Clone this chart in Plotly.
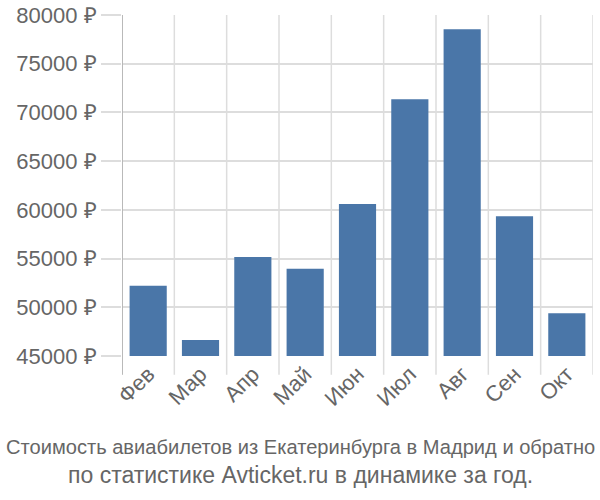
import plotly.graph_objects as go

months = ["Фев", "Мар", "Апр", "Май", "Июн", "Июл", "Авг", "Сен", "Окт"]
prices = [52200, 46650, 55150, 53950, 60600, 71350, 78550, 59350, 49400]
y_ticks = [45000, 50000, 55000, 60000, 65000, 70000, 75000, 80000]
y_tick_labels = [f"{v} ₽" for v in y_ticks]
title_line1 = "Стоимость авиабилетов из Екатеринбурга в Мадрид и обратно"
title_line2 = "по статистике Avticket.ru в динамике за год."

fig = go.Figure()
fig.add_trace(go.Bar(x=list(range(len(months))), y=prices, marker=dict(color="#4a76a8", line=dict(width=0)),
                     width=0.71))

fig.update_layout(
    width=600, height=500,
    margin=dict(l=122, r=7, t=15, b=144, autoexpand=False),
    plot_bgcolor="white", paper_bgcolor="white",
    showlegend=False,
    font=dict(family="Liberation Sans, Arial, sans-serif", color="#666666"),
)
fig.update_xaxes(
    tickmode="array", tickvals=list(range(len(months))), ticktext=months,
    range=[-0.5, len(months) - 0.5], automargin=False,
    tickangle=-45, tickfont=dict(size=22, color="#666666"),
    showgrid=False, ticks="", zeroline=False,
)
for i in range(len(months) + 1):
    fig.add_shape(type="line", xref="x", yref="paper", x0=i - 0.5, x1=i - 0.5, y0=-0.055, y1=1,
                  line=dict(color="#dddddd", width=1.5), layer="below")
fig.add_shape(type="line", xref="x", yref="paper", x0=-0.5, x1=-0.5, y0=-0.055, y1=1,
              line=dict(color="#aaaaaa", width=1.5), layer="above")
fig.update_yaxes(
    range=[45000, 80000], tickmode="array", tickvals=y_ticks, ticktext=y_tick_labels,
    tickfont=dict(size=22, color="#666666"), automargin=False,
    showgrid=True, gridcolor="#dddddd", gridwidth=1.5,
    ticks="outside", ticklen=20, tickcolor="#dddddd", tickwidth=1.5,
    zeroline=False, showline=False,
)
fig.add_annotation(text=title_line1, xref="paper", yref="paper", x=0.378, xanchor="center",
                   y=-0.267, yanchor="middle", showarrow=False,
                   font=dict(family="Liberation Sans, sans-serif", size=20.1, color="#666666"))
fig.add_annotation(text=title_line2, xref="paper", yref="paper", x=0.378, xanchor="center",
                   y=-0.349, yanchor="middle", showarrow=False,
                   font=dict(family="Liberation Sans, sans-serif", size=23, color="#666666"))
fig.write_html("out.html")
